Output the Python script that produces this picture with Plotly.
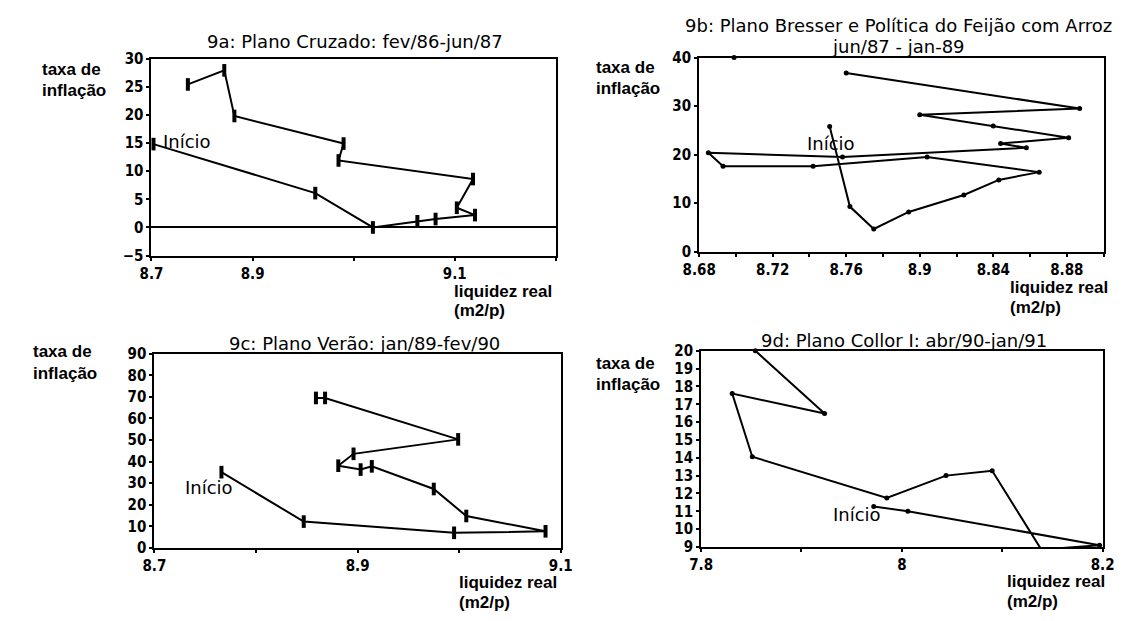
import plotly.graph_objects as go

# ---------------- data ----------------
# 9a: Plano Cruzado
a_x = [8.702, 8.862, 8.919, 8.963, 8.981, 9.020, 9.002, 9.018, 8.885, 8.890, 8.782, 8.772, 8.736]
a_y = [14.8, 6.1, 0.0, 1.1, 1.5, 2.2, 3.5, 8.6, 11.9, 14.9, 19.8, 27.9, 25.4]
a_xticks = [8.7, 8.8, 8.9, 9.0, 9.1]
a_xlabels = ["8.7", "8.9", "", "9.1", ""]
a_yticks = [-5, 0, 5, 10, 15, 20, 25, 30]

# 9b: Plano Bresser e Política do Feijão com Arroz
b_x = [8.751, 8.762, 8.775, 8.794, 8.824, 8.843, 8.865, 8.804, 8.742, 8.693, 8.685,
       8.758, 8.858, 8.844, 8.881, 8.840, 8.800, 8.887, 8.760]
b_y = [25.8, 9.3, 4.7, 8.2, 11.7, 14.8, 16.4, 19.5, 17.6, 17.6, 20.4,
       19.5, 21.4, 22.3, 23.5, 25.9, 28.2, 29.5, 36.8]
b_extra_x = [8.699]
b_extra_y = [40.0]
b_xticks = [8.68, 8.70, 8.72, 8.74, 8.76, 8.78, 8.80, 8.82, 8.84, 8.86, 8.88, 8.90]
b_xlabels = ["8.68", "", "8.72", "", "8.76", "", "8.9", "", "8.84", "", "8.88", ""]
b_yticks = [0, 10, 20, 30, 40]

# 9c: Plano Verão
c_x = [8.766, 8.847, 8.995, 9.085, 9.007, 8.975, 8.914, 8.903, 8.881, 8.896, 8.999, 8.868, 8.859]
c_y = [35.1, 12.2, 7.0, 7.7, 14.8, 27.3, 37.8, 36.3, 38.1, 43.6, 50.3, 69.5, 69.5]
c_xticks = [8.7, 8.8, 8.9, 9.0, 9.1]
c_xlabels = ["8.7", "", "8.9", "", "9.1"]
c_yticks = [0, 10, 20, 30, 40, 50, 60, 70, 80, 90]

# 9d: Plano Collor I
d_x = [7.972, 8.006, 8.197, 8.139, 8.090, 8.044, 7.985, 7.851, 7.831, 7.923, 7.854]
d_y = [11.27, 11.0, 9.1, 8.85, 13.27, 13.0, 11.75, 14.06, 17.6, 16.48, 20.0]
d_xticks = [7.8, 7.9, 8.0, 8.1, 8.2]
d_xlabels = ["7.8", "", "8", "", "8.2"]
d_yticks = list(range(9, 21))

title_a = "9a: Plano Cruzado: fev/86-jun/87"
title_b1 = "9b: Plano Bresser e Política do Feijão com Arroz"
title_b2 = "jun/87 - jan-89"
title_c = "9c: Plano Verão: jan/89-fev/90"
title_d = "9d: Plano Collor I: abr/90-jan/91"
ylabel_lines = ["taxa de", "inflação"]
xlabel_lines = ["liquidez real", "(m2/p)"]
start_label = "Início"

# ---------------- layout helpers ----------------
W, H = 1137, 621


def fx(p):
    return p / W


def fy(p):
    return 1 - p / H


TICKFONT = dict(family="Liberation Sans Narrow, DejaVu Sans Condensed, Arial Narrow, sans-serif",
                size=15, color="black", weight="bold")
LABFONT = dict(family="Liberation Sans, Arial, sans-serif", size=17, color="black", weight="bold")
TITFONT = dict(family="DejaVu Sans, Arial, sans-serif", size=18, color="black")
TITFONT_B = dict(family="DejaVu Sans, Arial, sans-serif", size=18, color="black")
STARTFONT = dict(family="DejaVu Sans, Arial, sans-serif", size=18, color="black")


def axis(dom, rng, tickvals, ticktext=None, **kw):
    d = dict(domain=dom, range=rng, tickmode="array", tickvals=tickvals,
             showline=True, linecolor="black", linewidth=2, mirror=True,
             ticks="outside", ticklen=3, tickwidth=1.5, tickcolor="black",
             showgrid=False, zeroline=False, tickfont=TICKFONT, fixedrange=True)
    if ticktext is not None:
        d["ticktext"] = ticktext
    d.update(kw)
    return d


fig = go.Figure()

bar_marker = dict(symbol="line-ns", size=9, color="black", line=dict(width=4, color="black"))
dot_marker = dict(symbol="circle", size=5, color="black")
LINE = dict(color="black", width=2)

fig.add_trace(go.Scatter(x=a_x, y=a_y, mode="lines+markers", line=LINE, marker=bar_marker,
                         xaxis="x", yaxis="y", showlegend=False, cliponaxis=False))
fig.add_trace(go.Scatter(x=b_x, y=b_y, mode="lines+markers", line=LINE, marker=dot_marker,
                         xaxis="x2", yaxis="y2", showlegend=False, cliponaxis=False))
fig.add_trace(go.Scatter(x=b_extra_x, y=b_extra_y, mode="markers", marker=dot_marker,
                         xaxis="x2", yaxis="y2", showlegend=False, cliponaxis=False))
fig.add_trace(go.Scatter(x=c_x, y=c_y, mode="lines+markers", line=LINE, marker=bar_marker,
                         xaxis="x3", yaxis="y3", showlegend=False, cliponaxis=False))
fig.add_trace(go.Scatter(x=d_x, y=d_y, mode="lines+markers", line=LINE, marker=dot_marker,
                         xaxis="x4", yaxis="y4", showlegend=False, cliponaxis=False))

# plot areas in pixels: (left, right, top, bottom)
A = (138, 553, 51, 254)
B = (700, 1115, 50, 250)
C = (141, 558, 355, 555)
D = (702, 1114, 352, 554)


def xd(p):
    return [fx(p[0]), fx(p[1])]


def yd(p):
    return [fy(p[3]), fy(p[2])]


fig.update_layout(
    width=W, height=H,
    margin=dict(l=0, r=0, t=0, b=0),
    paper_bgcolor="white", plot_bgcolor="white",
    xaxis=axis(xd(A), [8.7, 9.1], a_xticks, a_xlabels, anchor="y"),
    yaxis=axis(yd(A), [-5, 30], a_yticks, anchor="x", zeroline=True,
               zerolinecolor="black", zerolinewidth=2),
    xaxis2=axis(xd(B), [8.68, 8.90], b_xticks, b_xlabels, anchor="y2"),
    yaxis2=axis(yd(B), [0, 40], b_yticks, anchor="x2"),
    xaxis3=axis(xd(C), [8.7, 9.1], c_xticks, c_xlabels, anchor="y3"),
    yaxis3=axis(yd(C), [0, 90], c_yticks, anchor="x3"),
    xaxis4=axis(xd(D), [7.8, 8.2], d_xticks, d_xlabels, anchor="y4"),
    yaxis4=axis(yd(D), [9, 20], d_yticks, anchor="x4"),
)

ann = []


def text(s, x, y, font, xanchor="center", yanchor="middle"):
    ann.append(dict(text=s, x=fx(x), y=fy(y), xref="paper", yref="paper",
                    xanchor=xanchor, yanchor=yanchor, showarrow=False,
                    font=font, borderpad=0))


# titles
text(title_a, 347, 33, TITFONT)
text(title_b1, 905, 17, TITFONT_B)
text(title_b2, 905, 39, TITFONT_B)
text(title_c, 357, 344, TITFONT)
text(title_d, 910, 341, TITFONT)

# y labels (two lines each)
for (x0, y0) in [(25, 62), (593, 60), (15, 353), (593, 365)]:
    text(ylabel_lines[0], x0, y0, LABFONT, xanchor="left")
    text(ylabel_lines[1], x0, y0 + 22, LABFONT, xanchor="left")

# x labels (two lines each, below the tick labels)
for (x0, y0) in [(447, 291), (1018, 287), (453, 591), (1015, 590)]:
    text(xlabel_lines[0], x0, y0, LABFONT, xanchor="left")
    text(xlabel_lines[1], x0, y0 + 20, LABFONT, xanchor="left")

# "Início"
text(start_label, 149, 136, STARTFONT, xanchor="left")
text(start_label, 810, 139, STARTFONT, xanchor="left")
text(start_label, 171, 493, STARTFONT, xanchor="left")
text(start_label, 836, 521, STARTFONT, xanchor="left")

fig.update_layout(annotations=ann)

fig.write_html("out.html", config={"displayModeBar": False},
               post_script="document.body.style.margin='0px';")
